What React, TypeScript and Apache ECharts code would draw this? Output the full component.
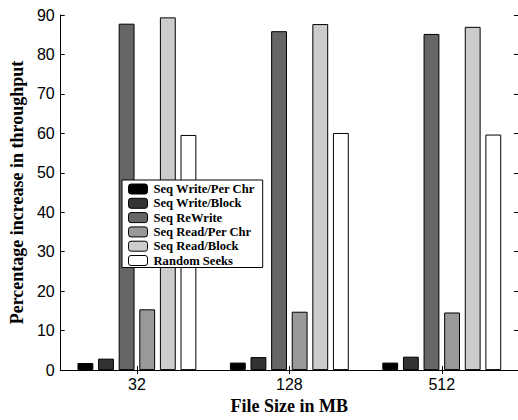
import React, { useEffect, useRef } from "react";
import * as echarts from "echarts";

const categories = ["32", "128", "512"];
const seriesNames = [
  "Seq Write/Per Chr",
  "Seq Write/Block",
  "Seq ReWrite",
  "Seq Read/Per Chr",
  "Seq Read/Block",
  "Random Seeks",
];
const seqWritePerChr = [1.8, 1.9, 1.9];
const seqWriteBlock = [2.9, 3.3, 3.4];
const seqReWrite = [87.8, 85.9, 85.2];
const seqReadPerChr = [15.4, 14.8, 14.6];
const seqReadBlock = [89.4, 87.7, 87.0];
const randomSeeks = [59.6, 60.1, 59.7];
const colors = ["#000000", "#333333", "#666666", "#999999", "#cccccc", "#ffffff"];

export default function App() {
  const ref = useRef<HTMLDivElement>(null);
  useEffect(() => {
    document.body.style.margin = "0";
    const chart = echarts.init(ref.current!, null, { renderer: "svg" });
    const values = [seqWritePerChr, seqWriteBlock, seqReWrite, seqReadPerChr, seqReadBlock, randomSeeks];
    const axisLine = { show: true, lineStyle: { color: "#000", width: 1 } };
    chart.setOption({
      animation: false,
      backgroundColor: "#fff",
      grid: { left: 57, top: 15, width: 462, height: 365, containLabel: false },
      legend: {
        orient: "vertical",
        left: 122,
        top: 180,
        itemWidth: 19,
        itemHeight: 10,
        itemGap: 0.3,
        padding: [2, 8, 0, 6],
        borderColor: "#000",
        borderWidth: 1,
        borderRadius: 0,
        backgroundColor: "#fff",
        data: seriesNames,
        textStyle: {
          fontFamily: "Liberation Serif",
          fontWeight: "bold",
          fontSize: 12.6,
          lineHeight: 14,
          color: "#000",
          padding: [0, 0, 0, 1],
        },
        itemStyle: { borderWidth: 1, borderColor: "#000" },
      },
      xAxis: [
        {
          type: "category",
          data: categories,
          position: "bottom",
          axisLine,
          axisTick: { show: true, inside: true, alignWithLabel: true, length: 4, lineStyle: { color: "#000" } },
          axisLabel: { fontFamily: "Liberation Sans", fontSize: 16, color: "#000", margin: 6 },
          name: "File Size in MB",
          nameLocation: "middle",
          nameGap: 20,
          nameTextStyle: { fontFamily: "Liberation Serif", fontWeight: "bold", fontSize: 18, color: "#000" },
        },
        {
          type: "category",
          data: categories,
          position: "top",
          axisLine,
          axisTick: { show: true, inside: true, alignWithLabel: true, length: 4, lineStyle: { color: "#000" } },
          axisLabel: { show: false },
        },
      ],
      yAxis: [
        {
          type: "value",
          min: 0,
          max: 90,
          interval: 10,
          position: "left",
          axisLine,
          splitLine: { show: false },
          axisTick: { show: true, inside: true, length: 4, lineStyle: { color: "#000" } },
          axisLabel: { fontFamily: "Liberation Sans", fontSize: 16, color: "#000", margin: 6 },
          name: "Percentage increase in throughput",
          nameLocation: "middle",
          nameGap: 30,
          nameTextStyle: { fontFamily: "Liberation Serif", fontWeight: "bold", fontSize: 18, color: "#000" },
        },
        {
          type: "value",
          min: 0,
          max: 90,
          interval: 10,
          position: "right",
          axisLine,
          splitLine: { show: false },
          axisTick: { show: true, inside: true, length: 4, lineStyle: { color: "#000" } },
          axisLabel: { show: false },
        },
      ],
      series: seriesNames.map((name, i) => ({
        name,
        type: "bar",
        xAxisIndex: 0,
        yAxisIndex: 0,
        data: values[i],
        barGap: "30%",
        barCategoryGap: "22%",
        itemStyle: { color: colors[i], borderColor: "#000", borderWidth: 1 },
      })),
    });
    return () => chart.dispose();
  }, []);
  return <div ref={ref} style={{ width: 518, height: 420 }} />;
}
